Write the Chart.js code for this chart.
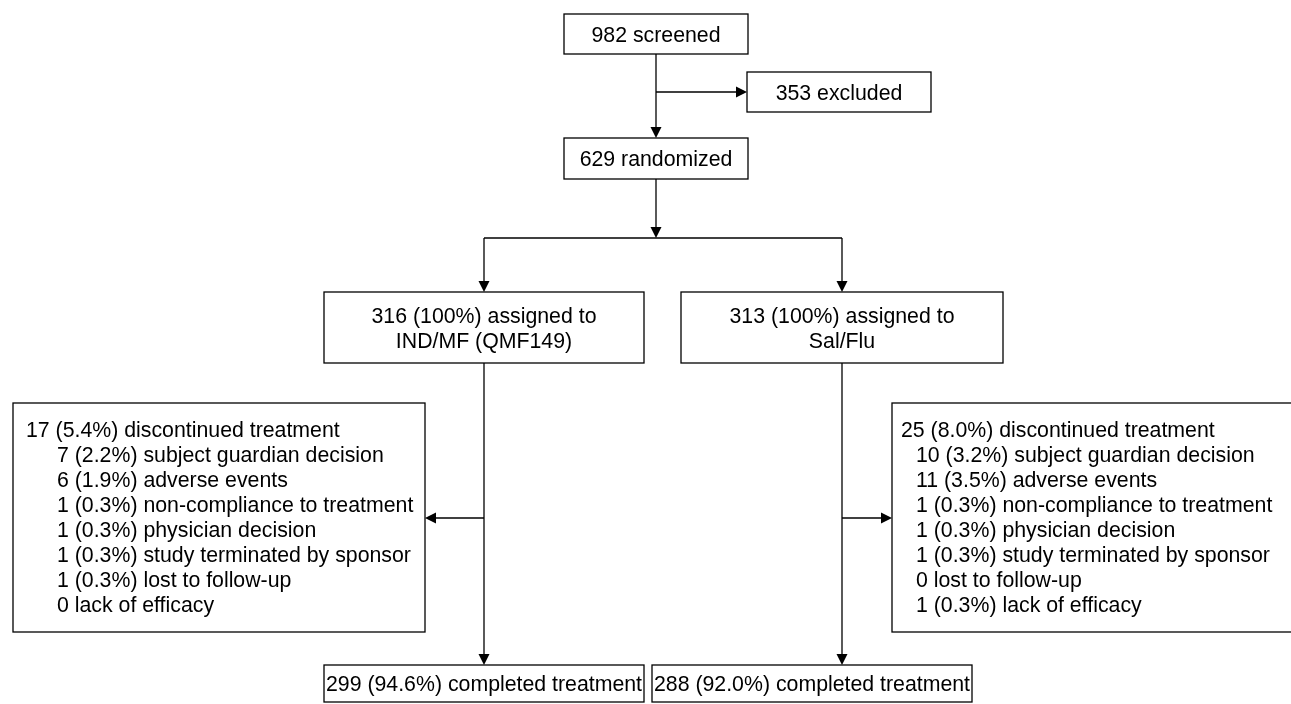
<!DOCTYPE html>
<html>
<head>
<meta charset="utf-8">
<script src="https://cdn.jsdelivr.net/npm/chart.js@4.4.1/dist/chart.umd.min.js"></script>
<style>
  html, body { margin: 0; padding: 0; background: #fff; }
  #wrap { width: 1291px; height: 704px; }
</style>
</head>
<body>
<div id="wrap"><canvas id="c" width="1291" height="704"></canvas></div>
<script>
// ---- DATA ----
const screened = 982;
const excluded = 353;
const randomized = 629;
const armNames = ['IND/MF (QMF149)', 'Sal/Flu'];
const armAssigned = [316, 313];
const armAssignedPct = ['100', '100'];
const armDiscontinued = [17, 25];
const armDiscontinuedPct = ['5.4', '8.0'];
const reasons = ['subject guardian decision', 'adverse events', 'non-compliance to treatment',
  'physician decision', 'study terminated by sponsor', 'lost to follow-up', 'lack of efficacy'];
const reasonsIND = [7, 6, 1, 1, 1, 1, 0];
const reasonsINDPct = ['2.2', '1.9', '0.3', '0.3', '0.3', '0.3', null];
const reasonsSal = [10, 11, 1, 1, 1, 0, 1];
const reasonsSalPct = ['3.2', '3.5', '0.3', '0.3', '0.3', null, '0.3'];
const armCompleted = [299, 288];
const armCompletedPct = ['94.6', '92.0'];

// ---- LAYOUT (diagram coordinates, mapped through the chart scales) ----
const W = 1291, H = 704;
const FS = 21.3;
const FONT = FS + 'px "Liberation Sans", Arial, Helvetica, sans-serif';
const L = {
  screened:   { x0: 564, x1: 748, y0: 14,  y1: 54 },
  excluded:   { x0: 747, x1: 931, y0: 72,  y1: 112 },
  randomized: { x0: 564, x1: 748, y0: 138, y1: 179 },
  splitY: 238,
  branchX: [484, 842],
  assigned: [ { x0: 324, x1: 644, y0: 292, y1: 363 }, { x0: 681, x1: 1003, y0: 292, y1: 363 } ],
  disc: [ { x0: 13, x1: 425, y0: 403, y1: 632, tx: 26, ix: 57 },
          { x0: 892, x1: 1298, y0: 403, y1: 632, tx: 901, ix: 916 } ],
  discArrowY: 518,
  discFirstBase: 437, discLine: 25,
  completed: [ { x0: 324, x1: 644, y0: 665, y1: 702 }, { x0: 652, x1: 972, y0: 665, y1: 702 } ]
};

function fmt(n, p) { return p == null ? String(n) : n + ' (' + p + '%)'; }

const flowPlugin = {
  id: 'flow',
  afterDraw(chart) {
    const ctx = chart.ctx;
    const sx = chart.scales.x, sy = chart.scales.y;
    const X = v => sx.getPixelForValue(v);
    const Y = v => sy.getPixelForValue(v);
    ctx.save();
    ctx.strokeStyle = '#000';
    ctx.fillStyle = '#000';
    ctx.lineWidth = 1.3;
    ctx.font = FONT;

    function box(b) {
      ctx.strokeRect(X(b.x0), Y(b.y0), X(b.x1) - X(b.x0), Y(b.y1) - Y(b.y0));
    }
    function centerText(b, lines) {
      const cx = (X(b.x0) + X(b.x1)) / 2;
      const cy = (Y(b.y0) + Y(b.y1)) / 2;
      const lh = 25;
      const cap = FS * 0.716;
      ctx.textAlign = 'center';
      ctx.textBaseline = 'alphabetic';
      const start = cy - (lines.length - 1) * lh / 2 + cap / 2;
      lines.forEach((t, i) => ctx.fillText(t, cx, start + i * lh));
    }
    function line(x0, y0, x1, y1) {
      ctx.beginPath();
      ctx.moveTo(X(x0), Y(y0));
      ctx.lineTo(X(x1), Y(y1));
      ctx.stroke();
    }
    function arrow(x0, y0, x1, y1) {
      const px0 = X(x0), py0 = Y(y0), px1 = X(x1), py1 = Y(y1);
      const ang = Math.atan2(py1 - py0, px1 - px0);
      const len = 11, hw = 5.5;
      const bx = px1 - len * Math.cos(ang), by = py1 - len * Math.sin(ang);
      ctx.beginPath();
      ctx.moveTo(px0, py0);
      ctx.lineTo(bx, by);
      ctx.stroke();
      ctx.beginPath();
      ctx.moveTo(px1, py1);
      ctx.lineTo(bx + hw * Math.sin(ang), by - hw * Math.cos(ang));
      ctx.lineTo(bx - hw * Math.sin(ang), by + hw * Math.cos(ang));
      ctx.closePath();
      ctx.fill();
    }

    // top boxes
    box(L.screened); centerText(L.screened, [screened + ' screened']);
    box(L.excluded); centerText(L.excluded, [excluded + ' excluded']);
    box(L.randomized); centerText(L.randomized, [randomized + ' randomized']);
    const cx = (L.screened.x0 + L.screened.x1) / 2;
    const exY = (L.excluded.y0 + L.excluded.y1) / 2;
    arrow(cx, L.screened.y1, cx, L.randomized.y0);
    arrow(cx, exY, L.excluded.x0, exY);
    arrow(cx, L.randomized.y1, cx, L.splitY);
    line(L.branchX[0], L.splitY, L.branchX[1], L.splitY);

    const reasonVals = [reasonsIND, reasonsSal];
    const reasonPcts = [reasonsINDPct, reasonsSalPct];
    for (let a = 0; a < 2; a++) {
      const bx = L.branchX[a];
      const as = L.assigned[a];
      arrow(bx, L.splitY, bx, as.y0);
      box(as);
      centerText(as, [armAssigned[a] + ' (' + armAssignedPct[a] + '%) assigned to', armNames[a]]);
      const cp = L.completed[a];
      arrow(bx, as.y1, bx, cp.y0);
      box(cp);
      centerText(cp, [fmt(armCompleted[a], armCompletedPct[a]) + ' completed treatment']);
      const d = L.disc[a];
      box(d);
      arrow(bx, L.discArrowY, a === 0 ? d.x1 : d.x0, L.discArrowY);
      ctx.textAlign = 'left';
      ctx.textBaseline = 'alphabetic';
      ctx.fillText(fmt(armDiscontinued[a], armDiscontinuedPct[a]) + ' discontinued treatment',
        X(d.tx), Y(L.discFirstBase));
      reasons.forEach((r, i) => {
        ctx.fillText(fmt(reasonVals[a][i], reasonPcts[a][i]) + ' ' + r,
          X(d.ix), Y(L.discFirstBase + (i + 1) * L.discLine));
      });
    }
    ctx.restore();
  }
};

new Chart(document.getElementById('c'), {
  type: 'scatter',
  data: { datasets: [{ data: [], pointRadius: 0 }] },
  options: {
    responsive: false,
    animation: false,
    devicePixelRatio: 1,
    layout: { padding: 0 },
    plugins: { legend: { display: false }, tooltip: { enabled: false } },
    scales: {
      x: { type: 'linear', min: 0, max: W, display: false },
      y: { type: 'linear', min: 0, max: H, reverse: true, display: false }
    }
  },
  plugins: [flowPlugin]
});
</script>
</body>
</html>
